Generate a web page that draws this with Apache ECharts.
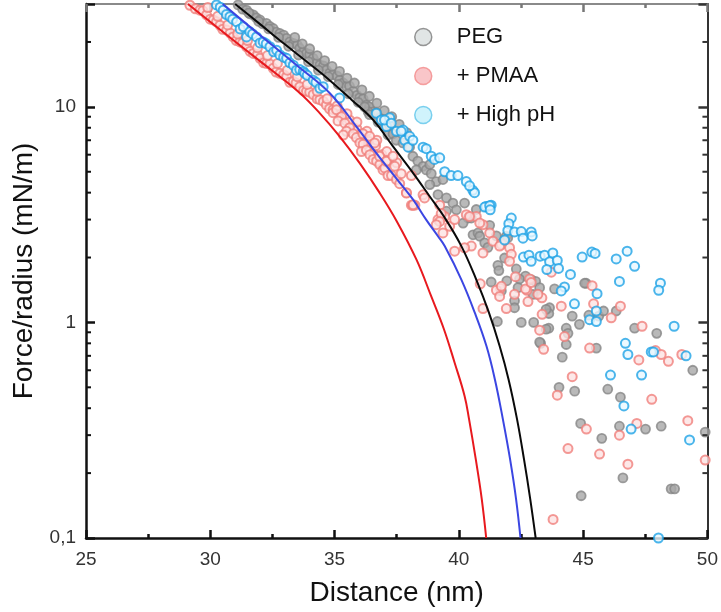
<!DOCTYPE html>
<html><head><meta charset="utf-8">
<script src="https://cdn.jsdelivr.net/npm/echarts@6/dist/echarts.min.js"></script>
<style>html,body{margin:0;padding:0;background:#fff}#c{width:721px;height:612px}</style>
</head><body><div id="c"></div>
<script>
const xMin = 25, xMax = 50, xStep = 5;
const yMin = 0.1, yMax = 30;
const yMajorTicks = [0.1, 1, 10];
const yTickLabels = ['0,1', '1', '10'];
const yMinorTicks = [0.2,0.3,0.4,0.5,0.6,0.7,0.8,0.9,2,3,4,5,6,7,8,9,20];
const seriesNames = ['PEG', '+ PMAA', '+ High pH'];

const pegPoints = [
 [31.12,29.7],[31.3,28.4],[31.46,28.1],[31.6,27.0],[31.73,26.7],[31.85,25.9],[32.0,25.3],[32.1,24.3],[32.26,24.4],[32.4,23.6],[32.53,23.1],[32.65,22.2],[32.8,21.9],[32.95,21.5],[33.07,20.8],[33.2,20.0],[33.34,19.7],[33.5,19.4],[33.6,18.7],[33.75,18.0],[33.87,17.7],[34.0,17.5],[34.14,16.8],[34.3,16.0],[34.41,15.6],[34.55,15.5],[34.67,14.8],[34.8,14.3],[34.94,14.1],[35.1,13.9],[35.21,13.3],[35.35,12.9],[35.48,12.4],[35.6,12.5],[35.75,11.8],[35.9,11.3],[36.01,11.0],[36.15,10.9],[36.28,10.2],[36.4,10.0],[36.55,9.5],[36.7,9.4],[36.82,8.9],
 [33.4,21.0],[33.7,19.6],[34.0,18.6],[34.3,17.3],[34.6,16.4],[34.9,15.4],[35.2,14.6],[35.5,13.6],[35.8,12.9],[36.1,12.0],[36.4,11.2],[36.7,10.4],[37.0,9.6],[37.3,9.0],[37.6,8.3],[37.9,7.6],
 [31.55,27.3],[31.95,24.9],[32.35,23.0],[32.75,21.0],[33.15,19.1],[33.55,17.4],[33.95,16.2],[34.35,14.8],[34.75,13.8],[35.15,12.7],[35.55,11.5],[35.95,10.5],[36.35,9.5],[36.75,8.5],[37.15,7.4],
 [36.21,10.0],[36.41,9.2],[36.75,8.7],[37.01,8.1],[37.22,8.2],[37.35,7.5],[37.48,7.0],[37.75,6.8],[38.02,6.5],[38.15,5.9],[38.35,5.6],[38.56,5.3],[38.69,5.1],[38.89,4.9],[39.09,4.5],[39.36,4.6],[45.12,1.52],
 [38.29,5.1],[38.83,5.4],[38.83,4.36],[39.16,3.92],[39.5,3.78],[39.5,3.28],
 [39.76,3.58],[40.23,3.58],[39.9,3.33],[40.37,3.05],[40.5,3.05],[40.17,2.89],[41.24,2.82],[40.57,2.55],[40.77,2.6],[40.84,2.51],[41.51,2.52],[41.04,2.34],[41.17,2.23],[41.91,2.51],[41.84,1.99],[41.57,1.84],[41.61,1.74],[42.31,1.77],[42.68,1.64],[42.44,1.59],[42.91,1.58],[43.09,1.55],[43.25,1.45],[43.18,1.35],[42.98,1.35],[42.38,1.45],[41.71,1.4],[41.3,1.54],[41.93,1.56],[42.24,1.26],[42.24,1.17],[43.65,1.17],[43.62,1.1],[43.85,1.43],[45.06,1.52],[44.56,1.07],[44.85,0.98],[45.23,1.08],[45.63,1.07],[45.82,1.13],[46.33,1.13],[42.51,1.0],[43.01,1.0],[43.62,0.94],[44.32,0.94],[44.39,0.89],[43.29,0.8],[44.32,0.79],[45.53,0.76],[44.16,0.69],[47.07,0.94],[47.96,0.89],[49.41,0.6],[41.55,1.01],[40.7,3.34],[41.97,2.47],[43.51,1.15],[43.51,0.93],[43.25,0.81],
 [44.03,0.5],[44.66,0.48],[45.99,0.49],[46.5,0.45],[44.9,0.34],[46.46,0.33],[47.51,0.32],[48.14,0.33],[49.91,0.31],[45.75,0.29],[46.6,0.19],[44.92,0.157],[48.54,0.169],[48.68,0.169]
];

const pmaaPoints = [
 [29.18,29.6],[29.4,28.5],[29.58,28.1],[29.7,27.9],[29.85,26.7],[30.0,25.5],[30.12,25.3],[30.25,24.8],[30.39,23.9],[30.5,22.9],[30.66,22.7],[30.8,22.0],[30.92,21.1],[31.05,20.3],[31.19,20.0],[31.3,19.8],[31.46,19.0],[31.6,18.1],[31.73,17.7],[31.9,17.5],[32.0,16.8],[32.15,16.0],[32.26,15.9],[32.4,15.8],[32.53,15.1],[32.65,14.5],[32.8,14.3],[32.95,14.1],[33.07,13.8],[33.2,13.0],[33.34,13.1],[33.45,12.9],[33.6,12.4],[33.75,11.9],[33.87,11.8],[34.0,11.7],[34.14,11.4],[34.3,10.9],[34.41,10.8],[34.55,10.6],[34.67,10.2],[34.8,9.8],[34.94,9.7],[35.1,9.6],[35.21,9.2],[35.35,8.8],[35.48,8.6],[35.6,8.7],[35.75,8.0],[35.9,7.9],[36.01,7.4],[36.15,7.5],[36.28,6.8],[36.4,6.9],[36.55,6.1],[36.65,6.6],[36.82,5.5],[36.9,6.0],[37.1,5.6],
 [29.9,28.9],[30.3,26.3],[30.7,24.0],[31.1,21.8],[31.5,20.3],[31.9,18.8],[32.3,17.3],[32.7,15.9],[33.1,14.8],[33.5,13.8],[33.9,12.7],[34.3,11.8],[34.7,10.9],[35.1,10.1],[35.5,9.3],[35.9,8.5],[36.3,7.7],[36.7,7.0],[37.1,6.2],[37.5,5.5],
 [34.94,9.4],[35.08,9.7],[35.28,9.0],[35.14,8.6],[35.41,8.4],[35.61,8.0],[35.48,7.7],[35.35,7.4],[35.75,7.5],[35.88,7.2],[36.02,6.8],[36.15,6.7],[36.08,6.2],[36.28,6.3],[36.42,6.0],[36.55,5.7],[36.69,5.6],[36.82,5.4],[36.95,5.1],[37.02,5.2],[37.15,4.8],[37.29,4.8],[37.49,4.6],[37.62,4.4],[37.89,4.0],[38.09,3.5],[38.23,3.5],[39.23,3.5],[39.43,3.1],
 [36.14,7.5],[36.41,7.3],[36.61,6.8],[36.81,5.9],[37.08,5.6],[37.35,5.9],[37.42,5.3],[37.68,4.9],[38.09,4.8],[38.15,3.5],[39.16,3.0],[39.29,3.2],[39.63,2.79],[39.36,2.6],
 [37.89,3.98],[38.16,3.51],[38.56,3.91],[38.62,3.78],[39.23,2.94],[39.09,2.84],
 [39.83,3.0],[40.3,3.16],[40.7,3.1],[40.97,2.84],[41.24,2.6],[41.37,2.38],[41.71,2.3],[42.04,2.22],[42.11,2.07],[42.04,1.92],[40.5,2.26],[40.97,2.1],[39.83,2.14],[40.23,2.22],[42.78,1.25],[42.74,1.41],[42.85,1.59],[42.68,1.43],[42.28,1.63],[41.91,1.16],[41.67,1.44],[41.51,1.41],[40.86,1.51],[40.97,1.16],[43.35,1.09],[43.34,1.3],[44.12,1.19],[44.25,0.86],[43.25,0.92],[43.41,0.75],[45.26,0.76],[45.36,1.48],[45.42,1.22],[46.13,1.05],[46.5,1.19],[47.37,0.96],[47.24,0.67],[47.91,0.74],[48.14,0.71],[48.43,0.66],[48.97,0.71],[44.56,0.56],[43.72,1.71],[40.43,3.1],[40.84,2.89],[41.64,2.26],[41.71,1.47],[41.64,1.32],[42.24,1.35],[42.91,1.53],[43.18,1.35],
 [43.96,0.46],[47.76,0.44],[47.16,0.34],[45.13,0.32],[46.46,0.3],[49.21,0.35],[44.39,0.26],[45.66,0.245],[46.8,0.22],[49.91,0.23],[43.79,0.122]
];

const highPhPoints = [
 [30.25,29.7],[30.4,29.0],[30.52,28.1],[30.65,26.8],[30.79,26.2],[30.9,25.5],[31.06,24.8],[31.2,23.0],[31.33,23.5],[31.46,21.1],[31.59,22.3],[31.7,21.8],[31.86,21.1],[32.0,19.8],[32.13,20.0],[32.25,19.6],[32.4,19.0],[32.55,18.0],[32.67,18.3],[32.8,17.4],[32.95,17.0],[33.07,16.8],[33.2,16.0],[33.34,15.6],[33.47,14.8],[33.6,14.9],[33.74,14.6],[33.8,14.3],[33.9,14.0],[34.14,13.3],[34.25,13.0],[34.41,12.2],[34.54,12.4],[35.2,11.0],
 [36.68,9.35],[36.88,8.7],[37.22,8.9],[37.09,8.1],[37.49,7.7],[37.76,7.8],[37.82,7.0],[37.96,6.5],
 [37.01,8.7],[37.28,8.4],[37.68,7.7],[38.02,7.3],[38.15,7.0],[38.56,6.5],[38.69,6.4],[38.89,5.9],[39.02,5.7],[39.23,5.8],[39.43,5.0],[39.69,4.8],[39.96,4.8],[40.3,4.5],[40.56,4.1],[40.63,4.0],[40.43,4.3],[41.1,3.45],[41.3,3.5],
 [41.04,3.43],[41.24,3.48],[41.26,3.33],[42.11,3.05],[42.01,2.87],[41.97,2.67],[42.24,2.63],[42.51,2.64],[42.58,2.46],[42.91,2.63],[42.95,2.52],[41.84,2.41],[42.6,2.01],[42.82,2.05],[42.91,1.92],[43.27,2.03],[43.45,2.05],[43.65,1.91],[43.78,2.1],[43.96,1.94],[44.01,1.78],[43.54,1.76],[44.49,1.67],[44.96,2.01],[45.35,2.12],[45.48,2.09],[46.33,1.97],[46.77,2.14],[47.07,1.82],[46.46,1.55],[48.11,1.52],[48.04,1.41],[44.25,1.46],[44.12,1.4],[45.56,1.36],[44.65,1.22],[45.53,1.13],[45.26,1.03],[45.53,1.01],[48.66,0.96],[46.7,0.8],[46.8,0.71],[47.74,0.73],[47.83,0.73],[49.14,0.7],[46.1,0.57],[47.35,0.57],
 [46.64,0.41],[46.93,0.32],[49.28,0.285],[48.03,0.1]
];

const pegFit = [[31.0,30],[32.0,24.2],[33.0,19.5],[34.0,15.8],[34.8,13.3],[35.68,10.8],[36.55,8.7],[37.35,6.55],[38.16,4.93],[38.83,3.84],[39.4,3.1],[40.1,2.26],[40.7,1.58],[41.21,1.11],[41.64,0.777],[42.0,0.544],[42.34,0.356],[42.62,0.232],[42.87,0.152],[43.09,0.1]];
const pmaaFit = [[29.1,30],[30.5,22.3],[32.0,16.3],[33.6,11.6],[34.41,9.33],[35.21,7.28],[36.01,5.48],[36.82,3.98],[37.5,2.95],[38.3,1.95],[38.89,1.32],[39.4,0.93],[39.83,0.65],[40.23,0.456],[40.41,0.356],[40.68,0.232],[40.92,0.152],[41.1,0.1]];
const highPhFit = [[30.5,30],[31.5,24.0],[32.5,19.3],[33.5,15.5],[34.8,11.6],[35.88,8.1],[36.68,6.1],[37.49,4.65],[38.16,3.71],[38.69,2.99],[39.16,2.51],[39.43,2.26],[40.1,1.58],[40.64,1.11],[41.11,0.777],[41.45,0.544],[41.77,0.356],[42.06,0.232],[42.3,0.152],[42.48,0.1]];

const FONT = '"Liberation Sans", Arial, sans-serif';
const chart = echarts.init(document.getElementById('c'));

function yLabel(v) {
  for (let i = 0; i < yMajorTicks.length; i++) {
    if (Math.abs(Math.log10(v) - Math.log10(yMajorTicks[i])) < 1e-6) return yTickLabels[i];
  }
  return '';
}

const scatterStyle = [
  {color: '#a8a8a8', borderColor: '#868686', borderWidth: 1.8},
  {color: '#fde2e2', borderColor: '#f0807c', borderWidth: 2},
  {color: '#e9f8ff', borderColor: '#1ea2e6', borderWidth: 2}
];
const legendStyle = [
  {color: '#dadede', borderColor: '#7c7c7c', borderWidth: 1.5},
  {color: '#f8b8bb', borderColor: '#f28a8a', borderWidth: 1.5},
  {color: '#c4f0fb', borderColor: '#5cc4ea', borderWidth: 1.5}
];

function tickRenderer(params, api) {
  const v = api.value(1);
  const pL = api.coord([xMin, v]);
  const pR = api.coord([xMax, v]);
  return {type: 'group', children: [
    {type: 'line', shape: {x1: pL[0], y1: pL[1], x2: pL[0] + 5, y2: pL[1]}, style: {stroke: '#111', lineWidth: 2}},
    {type: 'line', shape: {x1: pR[0], y1: pR[1], x2: pR[0] - 5, y2: pR[1]}, style: {stroke: '#333', lineWidth: 2}}
  ]};
}

chart.setOption({
  animation: false,
  backgroundColor: '#fff',
  grid: {left: 86, right: 13, top: 4, bottom: 73},
  legend: {
    orient: 'vertical', left: 414, top: 26, padding: 0,
    itemWidth: 17, itemHeight: 17, itemGap: 17, icon: 'circle',
    textStyle: {fontFamily: FONT, fontSize: 22, color: '#111', lineHeight: 21, padding: [0, 0, 0, 20]},
    data: seriesNames.map((n, i) => ({name: n, itemStyle: legendStyle[i]}))
  },
  xAxis: [{
    type: 'value', min: xMin, max: xMax, interval: xStep, position: 'bottom',
    name: 'Distance (nm)', nameLocation: 'middle', nameGap: 41,
    nameTextStyle: {fontFamily: FONT, fontSize: 28, color: '#111'},
    axisLine: {show: true, lineStyle: {color: '#111', width: 2.5}},
    axisTick: {show: true, inside: true, length: 8, lineStyle: {color: '#111', width: 2.5}},
    minorTick: {show: true, splitNumber: 2, length: 4, lineStyle: {color: '#111', width: 2.5}},
    axisLabel: {margin: 12, fontFamily: FONT, fontSize: 19, color: '#333'},
    splitLine: {show: false}
  }, {
    type: 'value', min: xMin, max: xMax, interval: xStep, position: 'top',
    axisLine: {show: true, lineStyle: {color: '#8a8a8a', width: 2}},
    axisTick: {show: true, inside: true, length: 8, lineStyle: {color: '#777', width: 2.5}},
    minorTick: {show: true, splitNumber: 2, length: 4, lineStyle: {color: '#777', width: 2.5}},
    axisLabel: {show: false}, splitLine: {show: false}
  }],
  yAxis: [{
    type: 'log', logBase: 10, min: yMin, max: yMax, position: 'left',
    name: 'Force/radius (mN/m)', nameLocation: 'middle', nameGap: 48,
    nameTextStyle: {fontFamily: FONT, fontSize: 28, color: '#111'},
    axisLine: {show: true, lineStyle: {color: '#111', width: 2.5}},
    axisTick: {show: true, inside: true, length: 9, lineStyle: {color: '#111', width: 2.5}},
    axisLabel: {margin: 10, fontFamily: FONT, fontSize: 19, color: '#333', formatter: yLabel},
    splitLine: {show: false}
  }, {
    type: 'log', logBase: 10, min: yMin, max: yMax, position: 'right',
    axisLine: {show: true, lineStyle: {color: '#333', width: 2}},
    axisTick: {show: true, inside: true, length: 9, lineStyle: {color: '#333', width: 2.5}},
    axisLabel: {show: false}, splitLine: {show: false}
  }],
  series: [
    {name: seriesNames[0], type: 'scatter', data: pegPoints, symbol: 'circle', symbolSize: 9, itemStyle: scatterStyle[0], z: 2},
    {name: seriesNames[1], type: 'scatter', data: pmaaPoints, symbol: 'circle', symbolSize: 9, itemStyle: scatterStyle[1], z: 2},
    {name: seriesNames[2], type: 'scatter', data: highPhPoints, symbol: 'circle', symbolSize: 9, itemStyle: scatterStyle[2], z: 2},
    {name: 'PEG fit', type: 'line', data: pegFit, showSymbol: false, smooth: 0.4, lineStyle: {color: '#0a0a0a', width: 2}, z: 4},
    {name: 'PMAA fit', type: 'line', data: pmaaFit, showSymbol: false, smooth: 0.4, lineStyle: {color: '#e8191e', width: 2}, z: 4},
    {name: 'High pH fit', type: 'line', data: highPhFit, showSymbol: false, smooth: 0.4, lineStyle: {color: '#3b46e2', width: 2}, z: 4},
    {name: 'minor ticks', type: 'custom', z: 5, data: yMinorTicks.map(v => [xMin, v]), renderItem: tickRenderer}
  ]
});
</script>
</body></html>
